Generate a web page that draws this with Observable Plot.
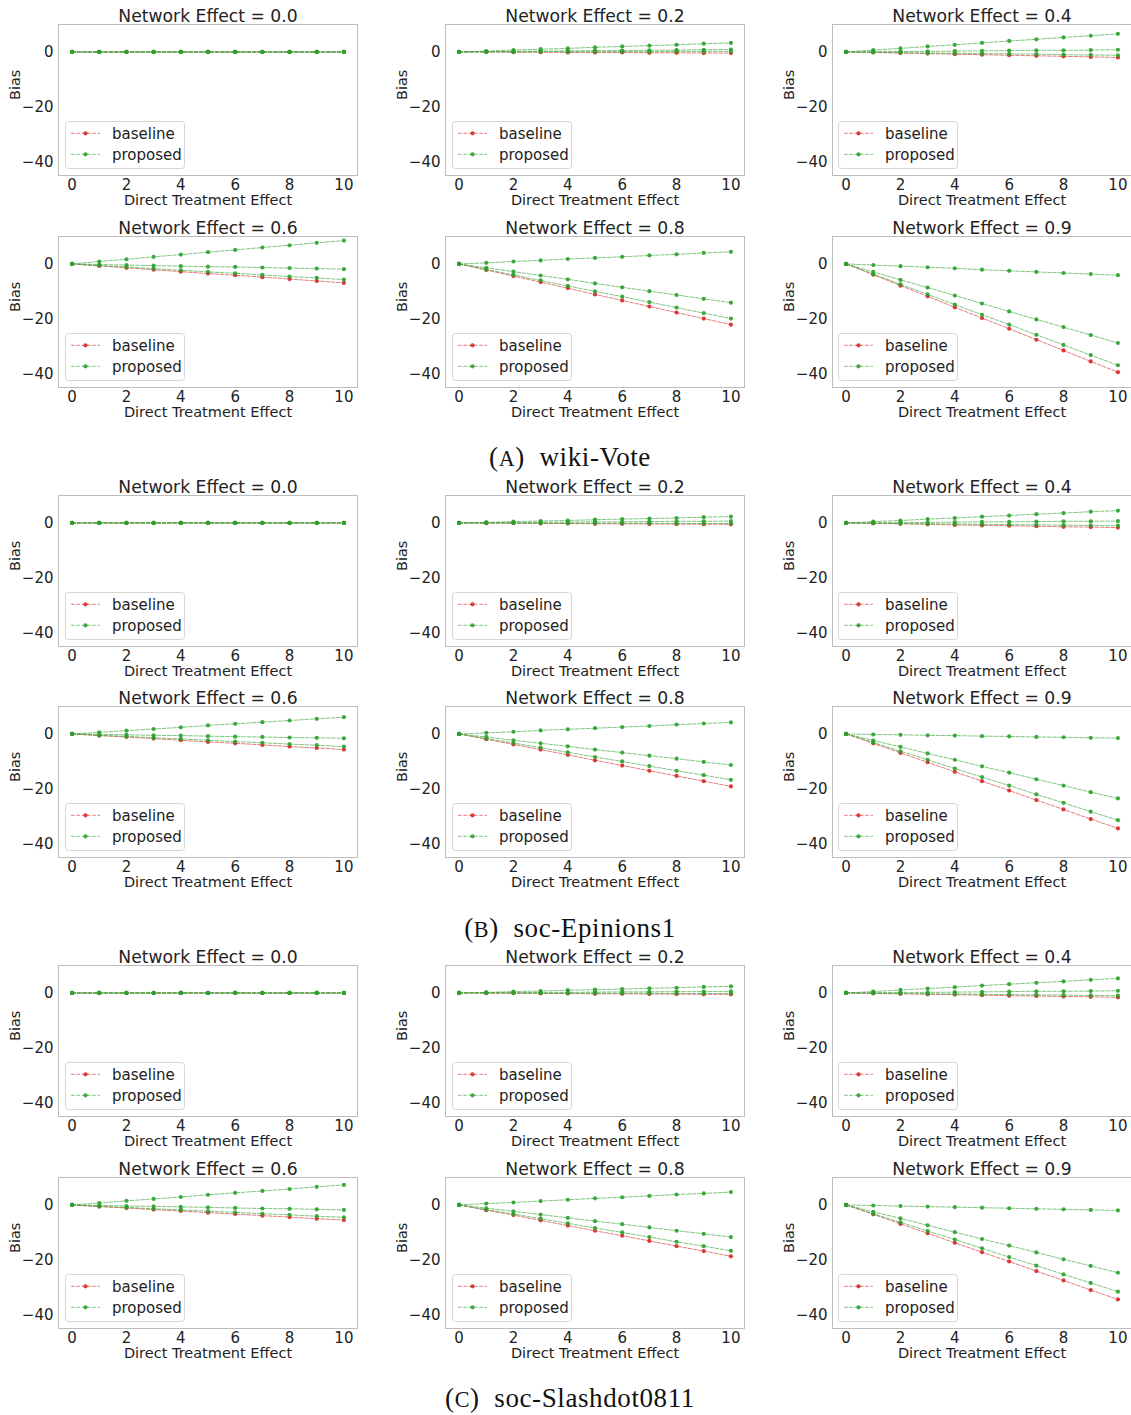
<!DOCTYPE html>
<html>
<head>
<meta charset="utf-8">
<script src="https://cdn.jsdelivr.net/npm/d3@7"></script>
<script src="https://cdn.jsdelivr.net/npm/@observablehq/plot@0.6"></script>
<style>
  body { margin: 0; background: #fff; }
  #fig { position: relative; width: 1131px; height: 1415px; overflow: hidden; font-family: "DejaVu Sans", sans-serif; color: #222; }
  .panel { position: absolute; width: 360px; height: 211px; }
  .panel svg { max-width: none !important; }
  .legend { position: absolute; }
  .caption { position: absolute; left: 0; width: 1140px; text-align: center; font-family: "Liberation Serif", "DejaVu Serif", serif; font-size: 27px; line-height: 30px; color: #111; letter-spacing: 0.6px; }
  .caption .sc { font-size: 0.82em; }
</style>
</head>
<body>
<div id="fig"></div>
<script>
// Direct treatment effect values on the x axis
const directEffect = [0, 1, 2, 3, 4, 5, 6, 7, 8, 9, 10];
const networkEffects = ["0.0", "0.2", "0.4", "0.6", "0.8", "0.9"];
const datasetNames = ["wiki-Vote", "soc-Epinions1", "soc-Slashdot0811"];
const datasetLetters = ["A", "B", "C"];
const xTicks = [0, 2, 4, 6, 8, 10];
const yTicks = [0, -20, -40];
const seriesNames = ["baseline", "proposed"];

const zeros = [0, 0, 0, 0, 0, 0, 0, 0, 0, 0, 0];

// wiki-Vote: bias of the baseline estimator, one array per network effect
const wikiVoteBaseline = [
  zeros,
  [0, 0, -0.1, -0.1, -0.2, -0.2, -0.2, -0.3, -0.3, -0.4, -0.4],
  [0, -0.2, -0.4, -0.6, -0.8, -1.0, -1.2, -1.4, -1.6, -1.8, -2.0],
  [0, -0.7, -1.4, -2.1, -2.8, -3.5, -4.1, -4.8, -5.5, -6.2, -6.9],
  [0, -2.2, -4.4, -6.6, -8.8, -11.1, -13.3, -15.5, -17.7, -19.9, -22.1],
  [0, -3.9, -7.9, -11.8, -15.8, -19.7, -23.6, -27.6, -31.5, -35.5, -39.4]
];
// wiki-Vote: bias of the three proposed estimators
const wikiVoteProposed = [
  [zeros, zeros, zeros],
  [[0, 0.3, 0.7, 1.0, 1.3, 1.7, 2.0, 2.3, 2.6, 3.0, 3.3],
   [0, 0.1, 0.2, 0.3, 0.4, 0.5, 0.5, 0.6, 0.7, 0.8, 0.9],
   [0, 0, 0, 0.1, 0.1, 0.1, 0.1, 0.1, 0.2, 0.2, 0.2]],
  [[0, 0.7, 1.3, 2.0, 2.6, 3.3, 4.0, 4.6, 5.3, 5.9, 6.6],
   [0, 0.1, 0.2, 0.2, 0.3, 0.4, 0.5, 0.6, 0.6, 0.7, 0.8],
   [0, -0.1, -0.2, -0.4, -0.5, -0.6, -0.7, -0.8, -1.0, -1.1, -1.2]],
  [[0, 0.9, 1.7, 2.6, 3.4, 4.3, 5.1, 6.0, 6.8, 7.7, 8.5],
   [0, -0.2, -0.4, -0.6, -0.8, -1.0, -1.1, -1.3, -1.5, -1.7, -1.9],
   [0, -0.6, -1.1, -1.7, -2.3, -2.9, -3.4, -4.0, -4.6, -5.1, -5.7]],
  [[0, 0.4, 0.9, 1.3, 1.8, 2.2, 2.6, 3.1, 3.5, 4.0, 4.4],
   [0, -1.4, -2.8, -4.2, -5.6, -7.1, -8.5, -9.9, -11.3, -12.7, -14.1],
   [0, -2.0, -4.0, -6.0, -8.0, -10.0, -11.9, -13.9, -15.9, -17.9, -19.9]],
  [[0, -0.4, -0.8, -1.2, -1.6, -2.1, -2.5, -2.9, -3.3, -3.7, -4.1],
   [0, -2.9, -5.8, -8.6, -11.5, -14.4, -17.3, -20.2, -23.0, -25.9, -28.8],
   [0, -3.7, -7.4, -11.1, -14.8, -18.5, -22.1, -25.8, -29.5, -33.2, -36.9]]
];

// soc-Epinions1
const epinionsBaseline = [
  zeros,
  [0, -0.1, -0.1, -0.2, -0.2, -0.3, -0.3, -0.4, -0.4, -0.5, -0.5],
  [0, -0.2, -0.3, -0.5, -0.7, -0.9, -1.0, -1.2, -1.4, -1.5, -1.7],
  [0, -0.6, -1.1, -1.7, -2.3, -2.9, -3.4, -4.0, -4.6, -5.1, -5.7],
  [0, -1.9, -3.8, -5.7, -7.6, -9.6, -11.5, -13.4, -15.3, -17.2, -19.1],
  [0, -3.4, -6.9, -10.3, -13.8, -17.2, -20.6, -24.1, -27.5, -31.0, -34.4]
];
const epinionsProposed = [
  [zeros, zeros, zeros],
  [[0, 0.2, 0.5, 0.7, 0.9, 1.2, 1.4, 1.6, 1.8, 2.1, 2.3],
   [0, 0.1, 0.1, 0.2, 0.3, 0.4, 0.4, 0.5, 0.6, 0.6, 0.7],
   [0, 0, 0, -0.1, -0.1, -0.1, -0.1, -0.1, -0.2, -0.2, -0.2]],
  [[0, 0.5, 0.9, 1.4, 1.8, 2.3, 2.7, 3.2, 3.6, 4.1, 4.5],
   [0, 0.1, 0.1, 0.2, 0.3, 0.4, 0.4, 0.5, 0.6, 0.6, 0.7],
   [0, -0.1, -0.2, -0.3, -0.4, -0.5, -0.6, -0.7, -0.8, -0.9, -1.0]],
  [[0, 0.6, 1.2, 1.8, 2.4, 3.1, 3.7, 4.3, 4.9, 5.5, 6.1],
   [0, -0.2, -0.3, -0.5, -0.6, -0.8, -1.0, -1.1, -1.3, -1.4, -1.6],
   [0, -0.5, -0.9, -1.4, -1.8, -2.3, -2.8, -3.2, -3.7, -4.1, -4.6]],
  [[0, 0.4, 0.8, 1.3, 1.7, 2.1, 2.5, 2.9, 3.4, 3.8, 4.2],
   [0, -1.1, -2.3, -3.4, -4.5, -5.7, -6.8, -7.9, -9.0, -10.2, -11.3],
   [0, -1.7, -3.3, -5.0, -6.7, -8.4, -10.0, -11.7, -13.4, -15.0, -16.7]],
  [[0, -0.2, -0.3, -0.5, -0.6, -0.8, -0.9, -1.1, -1.2, -1.4, -1.5],
   [0, -2.4, -4.7, -7.1, -9.4, -11.8, -14.1, -16.5, -18.8, -21.2, -23.5],
   [0, -3.1, -6.3, -9.4, -12.6, -15.7, -18.8, -22.0, -25.1, -28.3, -31.4]]
];

// soc-Slashdot0811
const slashdotBaseline = [
  zeros,
  [0, -0.1, -0.1, -0.2, -0.2, -0.3, -0.3, -0.4, -0.4, -0.5, -0.5],
  [0, -0.2, -0.3, -0.5, -0.6, -0.8, -1.0, -1.1, -1.3, -1.4, -1.6],
  [0, -0.6, -1.1, -1.7, -2.2, -2.8, -3.3, -3.9, -4.4, -5.0, -5.5],
  [0, -1.9, -3.7, -5.6, -7.5, -9.4, -11.2, -13.1, -15.0, -16.8, -18.7],
  [0, -3.4, -6.9, -10.3, -13.8, -17.2, -20.6, -24.1, -27.5, -31.0, -34.4]
];
const slashdotProposed = [
  [zeros, zeros, zeros],
  [[0, 0.2, 0.5, 0.7, 1.0, 1.2, 1.4, 1.7, 1.9, 2.2, 2.4],
   [0, 0.1, 0.1, 0.2, 0.2, 0.3, 0.4, 0.4, 0.5, 0.5, 0.6],
   [0, 0, 0, -0.1, -0.1, -0.1, -0.1, -0.1, -0.2, -0.2, -0.2]],
  [[0, 0.5, 1.1, 1.6, 2.1, 2.7, 3.2, 3.7, 4.2, 4.8, 5.3],
   [0, 0.1, 0.2, 0.2, 0.3, 0.4, 0.5, 0.6, 0.6, 0.7, 0.8],
   [0, -0.1, -0.2, -0.3, -0.4, -0.5, -0.6, -0.7, -0.8, -0.9, -1.0]],
  [[0, 0.7, 1.5, 2.2, 2.9, 3.7, 4.4, 5.1, 5.8, 6.6, 7.3],
   [0, -0.2, -0.4, -0.5, -0.7, -0.9, -1.1, -1.3, -1.4, -1.6, -1.8],
   [0, -0.5, -0.9, -1.4, -1.8, -2.3, -2.7, -3.2, -3.6, -4.1, -4.5]],
  [[0, 0.5, 0.9, 1.4, 1.9, 2.4, 2.8, 3.3, 3.8, 4.2, 4.7],
   [0, -1.2, -2.3, -3.5, -4.7, -5.9, -7.0, -8.2, -9.4, -10.5, -11.7],
   [0, -1.7, -3.3, -5.0, -6.7, -8.4, -10.0, -11.7, -13.4, -15.0, -16.7]],
  [[0, -0.2, -0.4, -0.6, -0.8, -1.0, -1.2, -1.4, -1.6, -1.8, -2.0],
   [0, -2.5, -4.9, -7.4, -9.9, -12.4, -14.8, -17.3, -19.8, -22.2, -24.7],
   [0, -3.2, -6.3, -9.5, -12.6, -15.8, -19.0, -22.1, -25.3, -28.4, -31.6]]
];

const baselineByDataset = [wikiVoteBaseline, epinionsBaseline, slashdotBaseline];
const proposedByDataset = [wikiVoteProposed, epinionsProposed, slashdotProposed];

const RED = "#d62728";
const GREEN = "#2ca02c";
const DASH = "3.7,1.6";

// panel geometry (frame box of each small plot)
const frameLeft = [58, 445, 831.8];
const frameW = 299, frameH = 151;
const mL = 58, mT = 24, mR = 3, mB = 36;
const groupStep = 470.5, rowStep = 211.7;

const fig = document.getElementById("fig");
const minusFmt = d => (d < 0 ? "\u2212" + Math.abs(d) : String(d));

function panel(g, p) {
  const baseline = baselineByDataset[g][p].map((y, i) => ({x: directEffect[i], y}));
  const proposed = proposedByDataset[g][p].flatMap((arr, k) =>
    arr.map((y, i) => ({x: directEffect[i], y, run: k})));
  return Plot.plot({
    width: mL + frameW + mR,
    height: mT + frameH + mB,
    marginLeft: mL, marginTop: mT, marginRight: mR, marginBottom: mB,
    style: {fontFamily: "DejaVu Sans, sans-serif", fontSize: "15px", color: "#222", background: "transparent", overflow: "visible", maxWidth: "none"},
    x: {domain: [-0.5, 10.5], ticks: xTicks, tickSize: 0, tickPadding: 4, label: null, tickFormat: minusFmt},
    y: {domain: [-45, 10], ticks: yTicks, tickSize: 0, tickPadding: 5, label: null, tickFormat: minusFmt},
    marks: [
      Plot.frame({stroke: "#bdbdbd", strokeWidth: 1}),
      Plot.line(baseline, {x: "x", y: "y", stroke: RED, strokeWidth: 1, strokeOpacity: 0.6, strokeDasharray: DASH}),
      Plot.dot(baseline, {x: "x", y: "y", r: 2.1, fill: RED, fillOpacity: 0.9}),
      Plot.line(proposed, {x: "x", y: "y", z: "run", stroke: GREEN, strokeWidth: 1, strokeOpacity: 0.6, strokeDasharray: DASH}),
      Plot.dot(proposed, {x: "x", y: "y", r: 2.1, fill: GREEN, fillOpacity: 0.9}),
      Plot.text([`Network Effect = ${networkEffects[p]}`], {text: d => d, frameAnchor: "top", lineAnchor: "middle", dy: -8.5, fontSize: 17.2}),
      Plot.text(["Bias"], {text: d => d, frameAnchor: "left", lineAnchor: "middle", dx: -43, rotate: -90, fontSize: 14.5}),
      Plot.text(["Direct Treatment Effect"], {text: d => d, frameAnchor: "bottom", lineAnchor: "middle", dy: 25, fontSize: 14.5})
    ]
  });
}

function legendBox() {
  const ns = "http://www.w3.org/2000/svg";
  const svg = document.createElementNS(ns, "svg");
  svg.setAttribute("width", 121);
  svg.setAttribute("height", 49);
  const rows = [{name: seriesNames[0], color: RED, y: 12.3}, {name: seriesNames[1], color: GREEN, y: 33.3}];
  let html = `<rect x="0.5" y="0.5" width="119" height="47" rx="3" fill="rgba(255,255,255,0.8)" stroke="#d6d6d6"/>`;
  for (const r of rows) {
    html += `<line x1="6" x2="35" y1="${r.y}" y2="${r.y}" stroke="${r.color}" stroke-opacity="0.6" stroke-dasharray="${DASH}"/>`;
    html += `<circle cx="20.5" cy="${r.y}" r="2.1" fill="${r.color}" fill-opacity="0.9"/>`;
    html += `<text x="47" y="${r.y}" dy="0.35em" font-family="DejaVu Sans, sans-serif" font-size="15" fill="#222">${r.name}</text>`;
  }
  svg.innerHTML = html;
  return svg;
}

for (let g = 0; g < 3; g++) {
  for (let p = 0; p < 6; p++) {
    const r = Math.floor(p / 3), c = p % 3;
    const top = 24 + g * groupStep + r * rowStep;
    const left = frameLeft[c];
    const wrap = document.createElement("div");
    wrap.className = "panel";
    wrap.style.left = (left - mL) + "px";
    wrap.style.top = (top - mT) + "px";
    wrap.appendChild(panel(g, p));
    fig.appendChild(wrap);

    const lg = document.createElement("div");
    lg.className = "legend";
    lg.style.left = (left + 6.5) + "px";
    lg.style.top = (top + 97) + "px";
    lg.appendChild(legendBox());
    fig.appendChild(lg);
  }
  const cap = document.createElement("div");
  cap.className = "caption";
  cap.style.top = (442 + g * groupStep) + "px";
  cap.innerHTML = `(<span class="sc">${datasetLetters[g]}</span>)&nbsp; ${datasetNames[g]}`;
  fig.appendChild(cap);
}
</script>
</body>
</html>
